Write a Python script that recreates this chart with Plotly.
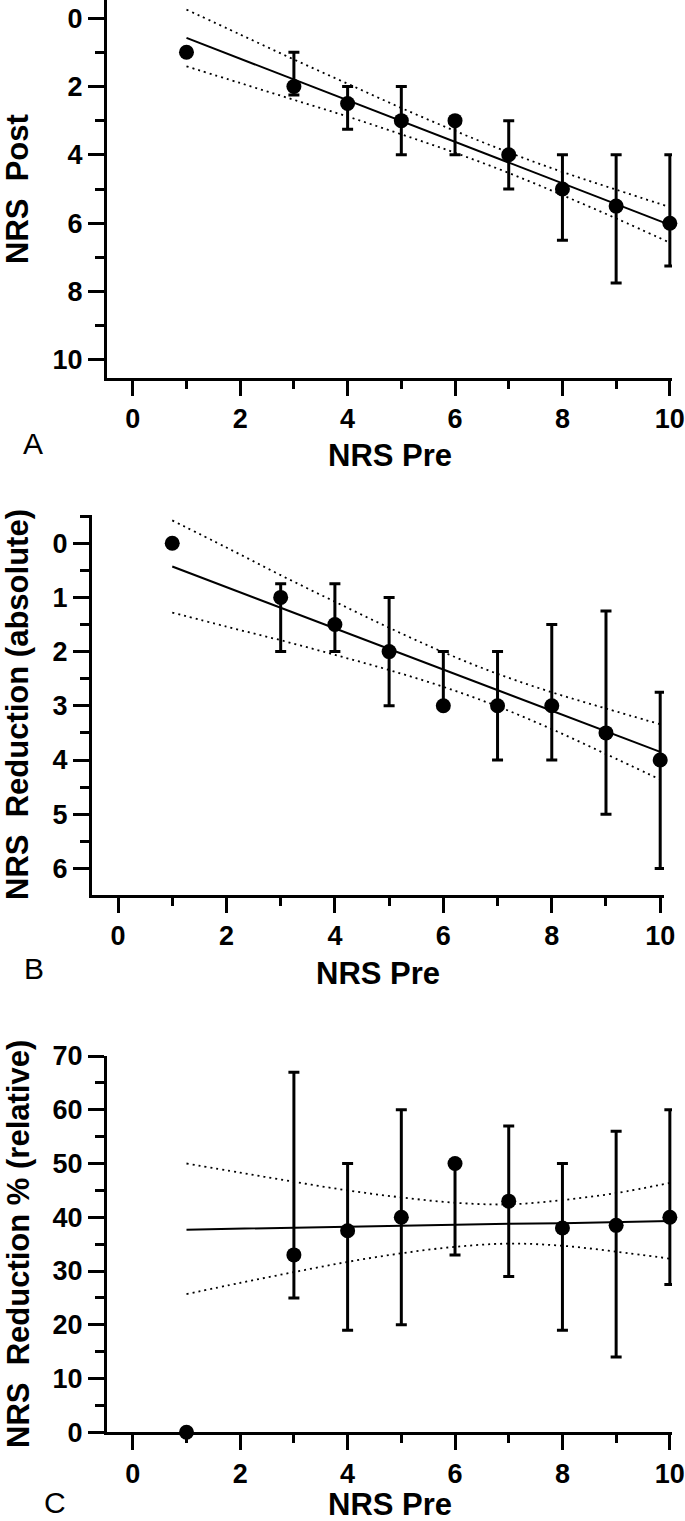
import plotly.graph_objects as go

W, H = 685, 1521

# ---------------- data ----------------
x_pts = [1, 3, 4, 5, 6, 7, 8, 9, 10]
x_fit = [1, 2, 3, 4, 5, 6, 7, 8, 9, 10]

# Panel A: NRS Post vs NRS Pre (median, IQR)
A_val = [1, 2, 2.5, 3, 3, 4, 5, 5.5, 6]
A_lo = [1, 1, 2, 2, 3, 3, 4, 4, 4]
A_hi = [1, 2.25, 3.25, 4, 4, 5, 6.5, 7.75, 7.25]
A_fit = [0.58, 1.19, 1.80, 2.40, 3.01, 3.62, 4.23, 4.84, 5.44, 6.05]
A_ci1 = [-0.25, 0.48, 1.21, 1.92, 2.63, 3.30, 3.93, 4.50, 5.02, 5.53]
A_ci2 = [1.41, 1.90, 2.39, 2.88, 3.40, 3.94, 4.53, 5.18, 5.86, 6.57]

# Panel B: absolute reduction
B_val = [0, 1, 1.5, 2, 3, 3, 3, 3.5, 4]
B_lo = [0, 0.75, 0.75, 1, 2, 2, 1.5, 1.25, 2.75]
B_hi = [0, 2, 2, 3, 3, 4, 4, 5, 6]
B_fit = [0.43, 0.81, 1.19, 1.57, 1.95, 2.33, 2.71, 3.09, 3.47, 3.85]
B_ci1 = [-0.42, 0.08, 0.59, 1.08, 1.56, 2.01, 2.41, 2.75, 3.05, 3.34]
B_ci2 = [1.28, 1.54, 1.79, 2.06, 2.34, 2.65, 3.01, 3.43, 3.89, 4.36]

# Panel C: relative reduction (%)
C_val = [0, 33, 37.5, 40, 50, 43, 38, 38.5, 40]
C_lo = [0, 25, 19, 20, 33, 29, 19, 14, 27.5]
C_hi = [0, 67, 50, 60, 50, 57, 50, 56, 60]
C_fit = [37.7, 37.9, 38.1, 38.2, 38.4, 38.6, 38.8, 38.9, 39.1, 39.3]
C_ci1 = [50.0, 48.3, 46.6, 45.0, 43.7, 42.7, 42.4, 43.2, 44.5, 46.4]
C_ci2 = [25.7, 27.8, 29.8, 31.7, 33.3, 34.5, 35.1, 34.7, 33.6, 32.3]

x_title = "NRS Pre"
y_titles = ["NRS\u00a0 Post", "NRS\u00a0 Reduction (absolute)", "NRS\u00a0 Reduction % (relative)"]
panel_letters = ["A", "B", "C"]

# ---------------- figure ----------------
FONT = "Liberation Sans, Arial, sans-serif"
fig = go.Figure()

panels = [
    ("x", "y", A_val, A_lo, A_hi, A_fit, A_ci1, A_ci2),
    ("x2", "y2", B_val, B_lo, B_hi, B_fit, B_ci1, B_ci2),
    ("x3", "y3", C_val, C_lo, C_hi, C_fit, C_ci1, C_ci2),
]

for xa, ya, val, lo, hi, fit, ci1, ci2 in panels:
    for ci in (ci1, ci2):
        fig.add_trace(go.Scatter(x=x_fit, y=ci, mode="lines", xaxis=xa, yaxis=ya,
                                 line=dict(color="black", width=1.8, dash="2px,4px", shape="spline"),
                                 showlegend=False, hoverinfo="skip", cliponaxis=False))
    fig.add_trace(go.Scatter(x=x_fit, y=fit, mode="lines", xaxis=xa, yaxis=ya,
                             line=dict(color="black", width=2),
                             showlegend=False, hoverinfo="skip", cliponaxis=False))
    plus = [h - v for h, v in zip(hi, val)]
    minus = [v - l for v, l in zip(val, lo)]
    fig.add_trace(go.Scatter(x=x_pts, y=val, mode="markers", xaxis=xa, yaxis=ya,
                             marker=dict(color="black", size=15, symbol="circle"),
                             error_y=dict(type="data", symmetric=False, array=plus, arrayminus=minus,
                                          color="black", thickness=3, width=5.5),
                             showlegend=False, cliponaxis=False))

def px_dom_y(top, bottom):
    return [1 - bottom / H, 1 - top / H]

def px_dom_x(left, right):
    return [left / W, right / W]

tickfont = dict(family=FONT, size=27, color="black", weight="bold")
common = dict(showline=True, linecolor="black", linewidth=3, ticks="outside",
              tickcolor="black", tickwidth=3, showgrid=False, zeroline=False,
              tickfont=tickfont, automargin=False)

xdef = dict(common, tickmode="linear", tick0=0, dtick=2, ticklen=15,
            minor=dict(tickmode="linear", tick0=0, dtick=1, ticklen=8, tickwidth=3,
                       tickcolor="black", ticks="outside", showgrid=False))

fig.update_layout(
    width=W, height=H, margin=dict(l=0, r=0, t=0, b=0, pad=0, autoexpand=False),
    paper_bgcolor="white", plot_bgcolor="white", showlegend=False,
    xaxis=dict(xdef, domain=px_dom_x(107, 672), range=[-0.48, 10.04], anchor="y"),
    xaxis2=dict(xdef, domain=px_dom_x(92, 664), range=[-0.48, 10.07], anchor="y2"),
    xaxis3=dict(xdef, domain=px_dom_x(107, 672), range=[-0.48, 10.04], anchor="y3"),
    yaxis=dict(common, domain=px_dom_y(0, 378), range=[10.53, -0.53], anchor="x",
               tickmode="linear", tick0=0, dtick=2, ticklen=16,
               minor=dict(tickmode="linear", tick0=0, dtick=1, ticklen=9, tickwidth=3,
                          tickcolor="black", ticks="outside", showgrid=False)),
    yaxis2=dict(common, domain=px_dom_y(515, 895), range=[6.49, -0.52], anchor="x2",
                tickmode="linear", tick0=0, dtick=1, ticklen=16,
                minor=dict(tickmode="linear", tick0=0, dtick=0.5, ticklen=9, tickwidth=3,
                           tickcolor="black", ticks="outside", showgrid=False)),
    yaxis3=dict(common, domain=px_dom_y(1056, 1432.3), range=[0, 70], anchor="x3",
                tickmode="linear", tick0=0, dtick=10, ticklen=16,
                minor=dict(tickmode="linear", tick0=0, dtick=5, ticklen=9, tickwidth=3,
                           tickcolor="black", ticks="outside", showgrid=False)),
)

titlefont = dict(family=FONT, size=31, color="black", weight="bold")
letterfont = dict(family=FONT, size=30, color="black")

# y-axis titles (rotated) and x-axis titles, positioned in pixels
ytitle_pos = [(18, 189), (18, 705), (18, 1244)]
xtitle_pos = [(389.5, 456), (378, 973), (389.5, 1504)]
letter_pos = [(33, 444), (34, 968), (55, 1502)]

for (yx, yy), txt in zip(ytitle_pos, y_titles):
    fig.add_annotation(x=yx / W, y=1 - yy / H, xref="paper", yref="paper", text=txt,
                       textangle=-90, showarrow=False, font=titlefont,
                       xanchor="center", yanchor="middle")
for (tx, ty) in xtitle_pos:
    fig.add_annotation(x=tx / W, y=1 - ty / H, xref="paper", yref="paper", text=x_title,
                       showarrow=False, font=titlefont, xanchor="center", yanchor="middle")
for (lx, ly), txt in zip(letter_pos, panel_letters):
    fig.add_annotation(x=lx / W, y=1 - ly / H, xref="paper", yref="paper", text=txt,
                       showarrow=False, font=letterfont, xanchor="center", yanchor="middle")

fig.write_html("out.html",
               config={"displayModeBar": False},
               post_script="document.body.style.margin='0';document.body.style.padding='0';"
                           "document.body.style.overflow='hidden';"
                           "document.documentElement.style.overflow='hidden';")
